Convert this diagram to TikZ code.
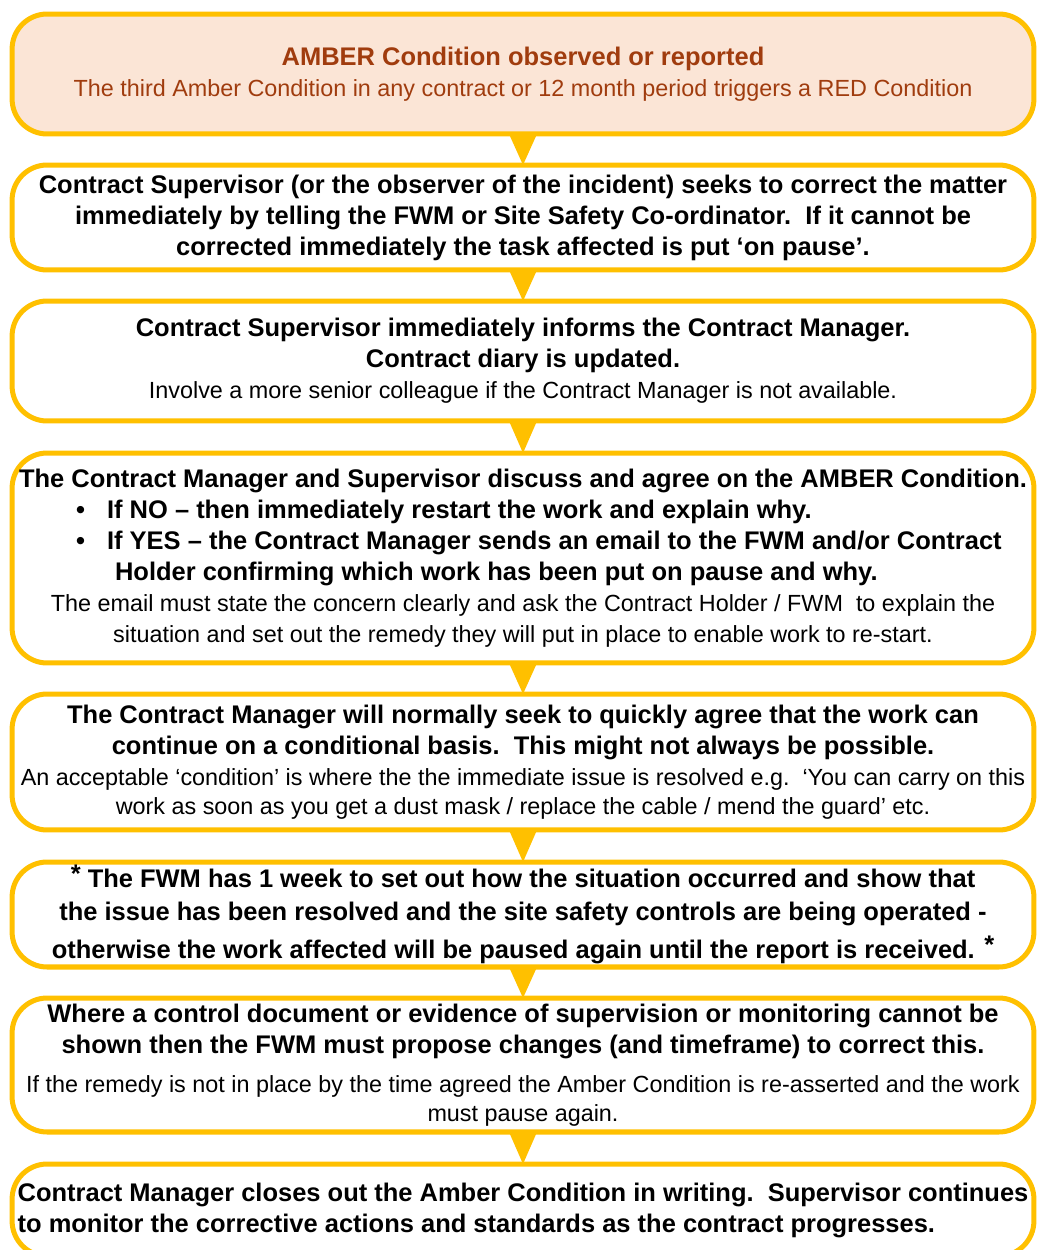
\documentclass[tikz,border=0pt]{standalone}
\usepackage{fontspec}
\setmainfont{Liberation Sans}
\definecolor{amberline}{RGB}{255,192,0}
\definecolor{amberfill}{RGB}{251,229,214}
\definecolor{ambertext}{RGB}{160,60,14}
\newcommand{\boxbold}{\bfseries\fontsize{14.5}{17.6}\selectfont}
\newcommand{\boxnote}{\mdseries\fontsize{13.3}{17}\selectfont}
\newcommand{\bulletline}[2]{\makebox[20.44cm][l]{\hspace{#1}#2}}
\tikzset{
  flowbox/.style={draw=amberline,line width=2.85pt,rounded corners=0.7cm,minimum width=20.44cm,
    inner sep=0pt,outer sep=0pt,align=center,font=\boxbold},
  pointer/.style={fill=amberline,draw=none}
}

\begin{document}
\begin{tikzpicture}[line cap=round,line join=round,x=0.02cm,y=-0.02cm]
			\clip (0,0) rectangle (1037,1250);
			\node [flowbox,fill=amberfill,text=ambertext,minimum height=2.4cm] (amber) at (523,74)
				{AMBER Condition observed or reported\\
				 \boxnote The third Amber Condition in any contract or 12 month period triggers a RED Condition};
			\node [flowbox,fill=white,minimum height=2.1cm] (correct) at (523,217.5)
				{Contract Supervisor (or the observer of the incident) seeks to correct the matter\\
				 immediately by telling the FWM or Site Safety Co-ordinator.\ \ If it cannot be\\
				 corrected immediately the task affected is put ‘on pause’.};
			\node [flowbox,fill=white,minimum height=2.4cm] (inform) at (523,361)
				{Contract Supervisor immediately informs the Contract Manager.\\
				 Contract diary is updated.\\
				 \boxnote Involve a more senior colleague if the Contract Manager is not available.};
			\node [flowbox,fill=white,minimum height=4.2cm] (agree) at (523,558)
				{The Contract Manager and Supervisor discuss and agree on the AMBER Condition.\\
				 \bulletline{1.28cm}{\makebox[0.62cm][l]{•}If NO – then immediately restart the work and explain why.}\\
				 \bulletline{1.28cm}{\makebox[0.62cm][l]{•}If YES – the Contract Manager sends an email to the FWM and/or Contract}\\
				 \bulletline{2.06cm}{Holder confirming which work has been put on pause and why.}\\
				 \boxnote The email must state the concern clearly and ask the Contract Holder / FWM\ \ to explain the\\
				 \boxnote situation and set out the remedy they will put in place to enable work to re-start.};
			\node [flowbox,fill=white,minimum height=2.72cm] (resume) at (523,762)
				{The Contract Manager will normally seek to quickly agree that the work can\\
				 continue on a conditional basis.\ \ This might not always be possible.\\
				 \boxnote An acceptable ‘condition’ is where the the immediate issue is resolved e.g.\ \ ‘You can carry on this\\[-1pt]
				 \boxnote work as soon as you get a dust mask / replace the cable / mend the guard’ etc.};
			\node [flowbox,fill=white,minimum height=2.1cm] (report) at (523,914.5)
				{\raisebox{3pt}{*} The FWM has 1 week to set out how the situation occurred and show that\\[1.2pt]
				 the issue has been resolved and the site safety controls are being operated -\\[4pt]
				 otherwise the work affected will be paused again until the report is received. \raisebox{3pt}{*}};
			\node [flowbox,fill=white,minimum height=2.68cm] (remedy) at (523,1065)
				{Where a control document or evidence of supervision or monitoring cannot be\\
				 shown then the FWM must propose changes (and timeframe) to correct this.\\[4.5pt]
				 \boxnote If the remedy is not in place by the time agreed the Amber Condition is re-asserted and the work\\[-1pt]
				 \boxnote must pause again.};
			\node [flowbox,fill=white,align=left,minimum height=1.84cm] (closeout) at (523,1210)
				{Contract Manager closes out the Amber Condition in writing.\ \ Supervisor continues\\
				 to monitor the corrective actions and standards as the contract progresses.};
			\foreach \a/\b in {amber/correct,correct/inform,inform/agree,agree/resume,resume/report,report/remedy,remedy/closeout}
				\fill [pointer] ([xshift=-0.28cm]\a.south) -- ([xshift=0.28cm]\a.south) -- (\b.north) -- cycle;
		\end{tikzpicture}
\end{document}
